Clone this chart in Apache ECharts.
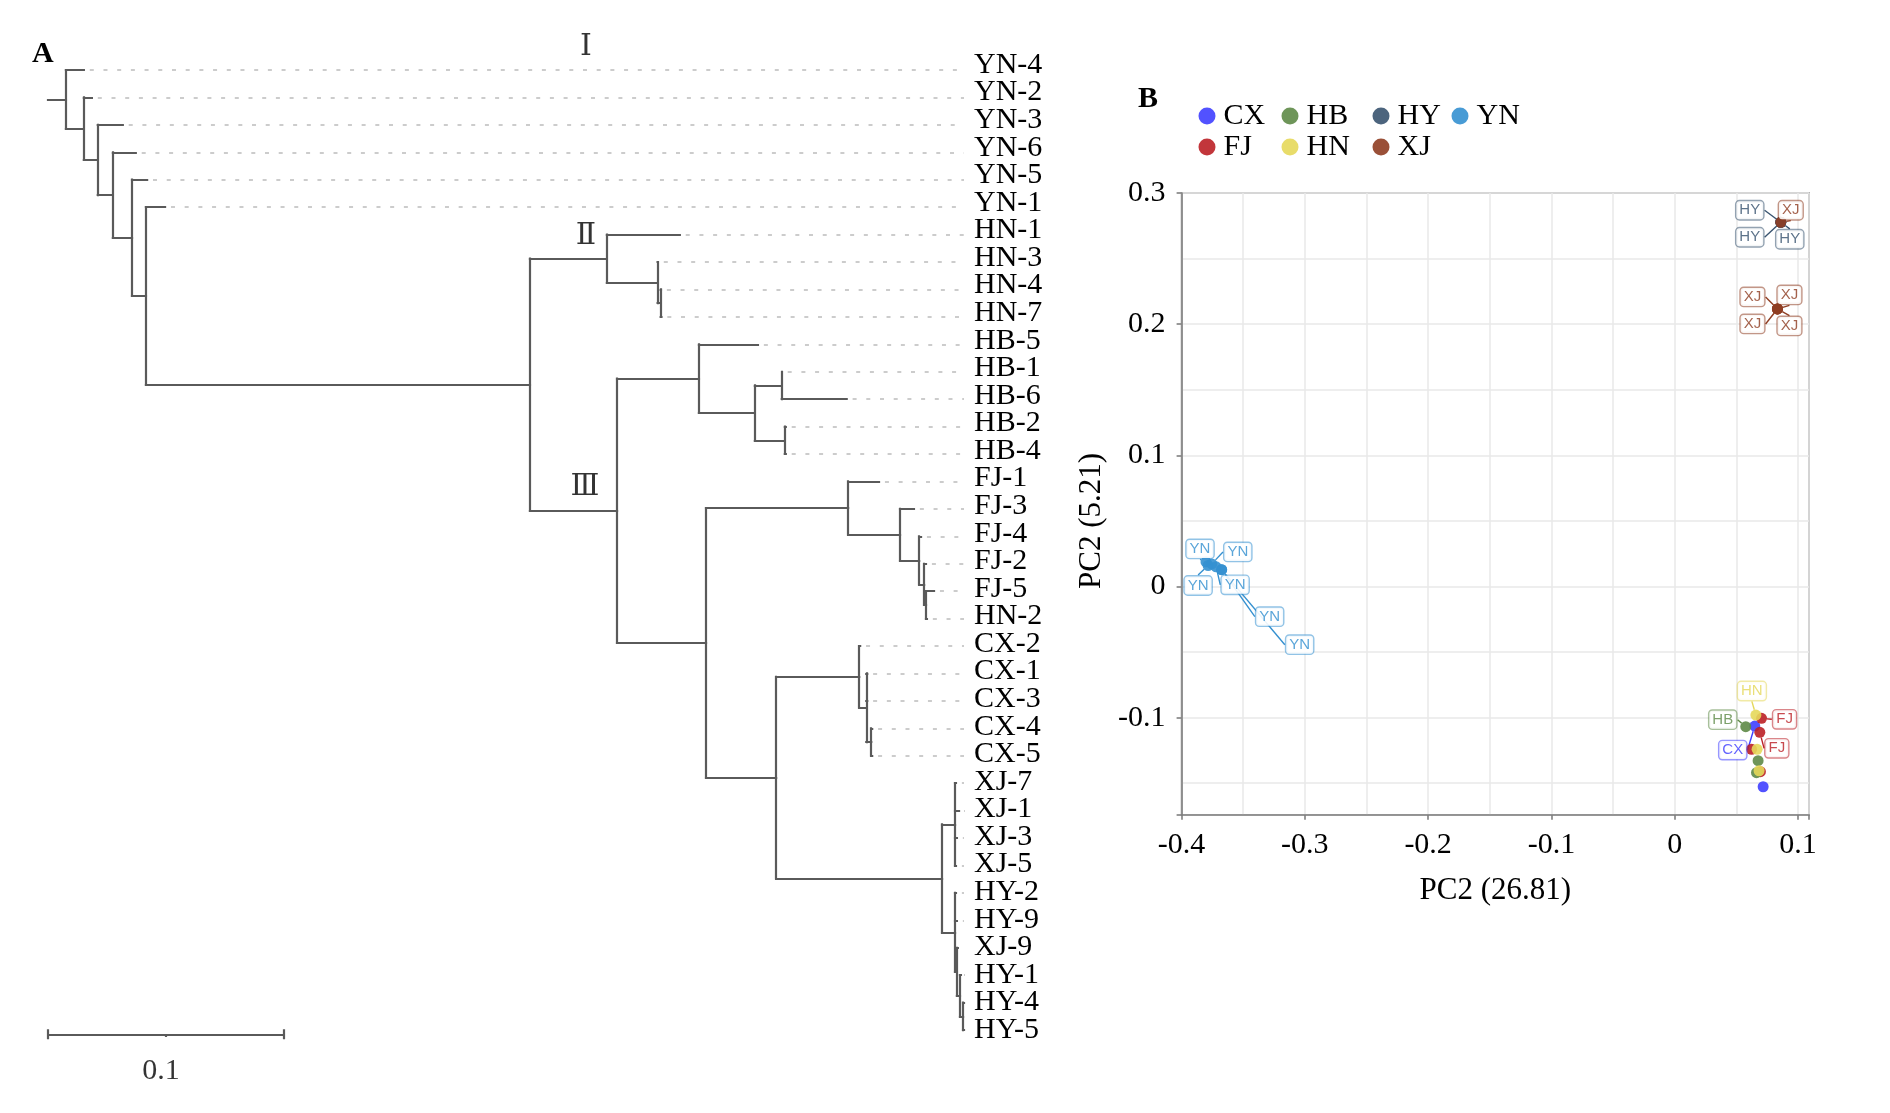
<!DOCTYPE html>
<html>
<head>
<meta charset="utf-8">
<script src="https://cdn.jsdelivr.net/npm/echarts@6/dist/echarts.min.js"></script>
<style>
html,body{margin:0;padding:0;background:#ffffff;}
#chart{width:1890px;height:1113px;}
</style>
</head>
<body>
<div id="chart"></div>
<script>
// ---------------- DATA ----------------
// Panel A: neighbour-joining tree (branch lengths)
const treeNewick =
 "(YN-4:0.0076,(YN-2:0.0034,(YN-3:0.0106,(YN-6:0.0097,(YN-5:0.0064,(YN-1:0.0081," +
 "((HN-1:0.0309,(HN-3:0.0001,(HN-4:0.0001,HN-7:0.0003):0.0013):0.0215):0.0326," +
 "((HB-5:0.0250,((HB-1:0.0000,HB-6:0.0275):0.0114,(HB-2:0.0004,HB-4:0.0004):0.0127):0.0237):0.0347," +
 "((FJ-1:0.0131,(FJ-3:0.0059,(FJ-4:0.0008,(FJ-2:0.0008,(FJ-5:0.0034,HN-2:0.0004):0.0008):0.0021):0.0081):0.0220):0.0602," +
 "((CX-2:0.0004,(CX-1:0.0004,CX-3:0.0004,(CX-4:0.0004,CX-5:0.0004):0.0021):0.0030):0.0352," +
 "((XJ-7:0.0004,XJ-1:0.0017,XJ-3:0.0008,XJ-5:0.0004):0.0055," +
 "(HY-2:0.0004,HY-9:0.0008,(XJ-9:0.0004,(HY-1:0.0004,(HY-4:0.0004,HY-5:0.0004):0.0013):0.0013):0.0008):0.0055):0.0703)" +
 ":0.0297):0.0377):0.0369):0.1627):0.0059):0.0081):0.0064):0.0059):0.0076):0.0076;";
const scaleBarLength = 0.1;
const cladeNames = ['Ⅰ', 'Ⅱ', 'Ⅲ'];

// Panel B: PCA scores per group
const groups = ['CX', 'FJ', 'HB', 'HN', 'HY', 'XJ', 'YN'];
const pcaCX = [[0.0650, -0.1064], [0.0718, -0.1527]];
const pcaFJ = [[0.0705, -0.1005], [0.0691, -0.1112], [0.0624, -0.1241], [0.0696, -0.1412]];
const pcaHB = [[0.0577, -0.1069], [0.0677, -0.1328], [0.0664, -0.1420]];
const pcaHN = [[0.0659, -0.0980], [0.0669, -0.1241], [0.0685, -0.1405]];
const pcaHY = [[0.0861, 0.2777], [0.0861, 0.2777], [0.0861, 0.2777]];
const pcaXJ = [[0.0861, 0.2777], [0.0834, 0.2116], [0.0834, 0.2116], [0.0834, 0.2116], [0.0834, 0.2116]];
const pcaYN = [[-0.3802, 0.0187], [-0.3785, 0.0160], [-0.3755, 0.0172], [-0.3720, 0.0150], [-0.3675, 0.0128], [-0.3675, 0.0128]];
const pcaXRange = [-0.4, 0.109];
const pcaYRange = [-0.174, 0.3];
const pcaXName = 'PC2 (26.81)';
const pcaYName = 'PC2 (5.21)';

// ---------------- STYLE / LAYOUT ----------------
const serif = "'Liberation Serif','Times New Roman','DejaVu Serif',serif";
const sans = "'Liberation Sans',Arial,sans-serif";
const groupColors = {CX:'#3f3fff', FJ:'#bb2026', HB:'#5e8a47', HN:'#e5d85a', HY:'#38536f', XJ:'#8f3d22', YN:'#3490d0'};
// repelled label displacement (px) per point, null = no label
const labelNudge = {
  CX: [[-22, 24], null],
  FJ: [[23, 1], [17, 16], null, null],
  HB: [[-23, -7], null, null],
  HN: [[-4, -24], null, null],
  HY: [[-31, -12], [-31, 15], [9, 17]],
  XJ: [[10, -12], [-25, -12], [12, -14], [-25, 15], [12, 17]],
  YN: [[-6, -13], [-10, 20], [26, -12], [19, 18], [48, 47], [78, 75]]
};
const pcaData = {CX: pcaCX, FJ: pcaFJ, HB: pcaHB, HN: pcaHN, HY: pcaHY, XJ: pcaXJ, YN: pcaYN};
const treeXMax = 0.3881;     // tree panel horizontal extent (distance units)
const rowGapX = 0.0025;      // gap between tip and dotted guide

// ---------------- TREE PARSING / LAYOUT ----------------
function parseNewick(s) {
  let i = 0;
  function node() {
    const n = {children: [], name: '', len: 0};
    if (s[i] === '(') {
      i++;
      n.children.push(node());
      while (s[i] === ',') { i++; n.children.push(node()); }
      i++; // ')'
    }
    let name = '';
    while (i < s.length && !':,();'.includes(s[i])) name += s[i++];
    n.name = name.trim();
    if (s[i] === ':') {
      i++;
      let num = '';
      while (i < s.length && !',();'.includes(s[i])) num += s[i++];
      n.len = parseFloat(num);
    }
    return n;
  }
  return node();
}
const root = parseNewick(treeNewick);
const leaves = [];
function layout(n, parent) {
  n.parent = parent;
  n.x = (parent ? parent.x : 0) + n.len;
  if (!n.children.length) {
    n.y = leaves.length;
    leaves.push(n);
  } else {
    n.children.forEach(c => layout(c, n));
    n.y = (n.children[0].y + n.children[n.children.length - 1].y) / 2;
  }
}
layout(root, null);
const leafNames = leaves.map(l => l.name);

const branchSegs = [];
(function walk(n) {
  const px = n.parent ? n.parent.x : 0;
  branchSegs.push({coords: [[px, n.y], [n.x, n.y]]});
  if (n.children.length) {
    branchSegs.push({coords: [[n.x, n.children[0].y], [n.x, n.children[n.children.length - 1].y]]});
    n.children.forEach(walk);
  }
})(root);
const guideSegs = leaves.map(l => ({coords: [[l.x + rowGapX, l.y], [treeXMax, l.y]]}));

function findLeaf(name) { return leaves.find(l => l.name === name); }
function mrca(a, b) {
  const anc = new Set();
  let n = findLeaf(a);
  while (n) { anc.add(n); n = n.parent; }
  n = findLeaf(b);
  while (n && !anc.has(n)) n = n.parent;
  return n;
}
const cladeIINode = mrca('HN-1', 'HN-7');
const cladeIIINode = mrca('HB-5', 'HY-5');
const cladeLabelData = [
  {value: [cladeIINode.x, 0], name: cladeNames[0], label: {offset: [-21, -23]}},
  {value: [cladeIINode.x, cladeIINode.y], name: cladeNames[1], label: {offset: [-21, -22]}},
  {value: [cladeIIINode.x, cladeIIINode.y], name: cladeNames[2], label: {offset: [-32, -24]}}
];

const barY = leaves.length - 1 + 0.155;
const capH = 0.18;
const scaleSegs = [
  {coords: [[0, barY], [scaleBarLength, barY]]},
  {coords: [[0, barY - capH], [0, barY + capH]]},
  {coords: [[scaleBarLength, barY - capH], [scaleBarLength, barY + capH]]},
  {coords: [[scaleBarLength / 2, barY], [scaleBarLength / 2, barY + 0.1]]}
];

// ---------------- CHART ----------------
function fmtTick(v) {
  const r = Math.round(v * 10);
  if (Math.abs(v * 10 - r) > 1e-6) return '';
  return r === 0 ? '0' : (r / 10).toString();
}
function hexA(hex, a) {
  const n = parseInt(hex.slice(1), 16);
  return 'rgba(' + ((n >> 16) & 255) + ',' + ((n >> 8) & 255) + ',' + (n & 255) + ',' + a + ')';
}

const pcaSeries = groups.map(g => {
  const col = groupColors[g];
  const nudge = labelNudge[g];
  return {
    type: 'scatter', name: g, xAxisIndex: 1, yAxisIndex: 1,
    data: pcaData[g].map((p, i) => ({value: p, label: {show: !!nudge[i]}})),
    symbolSize: 11,
    itemStyle: {color: col, opacity: 0.9},
    label: {
      show: true, formatter: g, position: 'inside',
      color: hexA(col, 0.9), fontFamily: sans, fontSize: 15,
      backgroundColor: '#ffffff', borderColor: hexA(col, 0.6), borderWidth: 1.4, borderRadius: 3,
      padding: [2, 3, 1, 3]
    },
    labelLayout: function (params) {
      const n = nudge[params.dataIndex];
      return n ? {dx: n[0], dy: n[1]} : {};
    },
    labelLine: {show: true, lineStyle: {color: col, width: 1.4}},
    emphasis: {disabled: true},
    silent: true
  };
});

const legendBase = {
  orient: 'vertical', top: 101, padding: 0, itemGap: 1, itemWidth: 17, itemHeight: 17,
  icon: 'circle', selectedMode: false,
  textStyle: {fontFamily: serif, fontSize: 30, color: '#000', lineHeight: 30, padding: [0, 0, 0, 3]}
};
const axisFont = {fontFamily: serif, fontSize: 30, color: '#000'};

const chart = echarts.init(document.getElementById('chart'), null, {renderer: 'canvas'});
chart.setOption({
  animation: false,
  backgroundColor: '#ffffff',
  title: [
    {text: 'A', left: 32, top: 39, padding: 0, textStyle: {fontFamily: serif, fontWeight: 'bold', fontSize: 30, color: '#000'}},
    {text: 'B', left: 1138, top: 84, padding: 0, textStyle: {fontFamily: serif, fontWeight: 'bold', fontSize: 30, color: '#000'}}
  ],
  legend: [
    Object.assign({}, legendBase, {data: ['CX', 'FJ'], left: 1198.5}),
    Object.assign({}, legendBase, {data: ['HB', 'HN'], left: 1281.5}),
    Object.assign({}, legendBase, {data: ['HY', 'XJ'], left: 1372.5}),
    Object.assign({}, legendBase, {data: ['YN'], left: 1451.5})
  ],
  grid: [
    {left: 48, top: 70, width: 916, height: 36 * 27.43},
    {left: 1181.6, top: 193, width: 627.4, height: 621.7, show: true, borderColor: '#7f7f7f', borderWidth: 1.6, backgroundColor: 'transparent'},
    {left: 48, top: 65, width: 916, height: 35 * 27.57}
  ],
  xAxis: [
    {gridIndex: 0, type: 'value', min: 0, max: treeXMax, show: false},
    {gridIndex: 1, type: 'value', position: 'bottom', min: pcaXRange[0], max: pcaXRange[1], splitNumber: 10,
      axisLine: {show: true, onZero: false, lineStyle: {color: '#7f7f7f', width: 1.6}},
      axisTick: {show: false},
      axisLabel: Object.assign({formatter: fmtTick, showMaxLabel: false, showMinLabel: true, margin: 15}, axisFont),
      splitLine: {show: true, lineStyle: {color: '#e8e8e8', width: 1.5}},
      name: pcaXName, nameLocation: 'middle', nameGap: 61,
      nameTextStyle: {fontFamily: serif, fontSize: 31, color: '#000'}},
    {gridIndex: 1, type: 'value', position: 'bottom', min: pcaXRange[0], max: pcaXRange[1], splitNumber: 5,
      axisLine: {show: false, onZero: false}, axisLabel: {show: false}, splitLine: {show: false},
      axisTick: {show: true, length: 5, lineStyle: {color: '#7f7f7f', width: 1.6}}},
    {gridIndex: 2, type: 'value', min: 0, max: 1, show: false}
  ],
  yAxis: [
    {gridIndex: 0, type: 'value', min: 0, max: 36, inverse: true, show: false},
    {gridIndex: 1, type: 'value', position: 'left', min: pcaYRange[0], max: pcaYRange[1], splitNumber: 10,
      axisLine: {show: true, onZero: false, lineStyle: {color: '#7f7f7f', width: 1.6}},
      axisTick: {show: false},
      axisLabel: Object.assign({formatter: fmtTick, showMinLabel: false, showMaxLabel: true, margin: 16}, axisFont),
      splitLine: {show: true, lineStyle: {color: '#e8e8e8', width: 1.5}},
      name: pcaYName, nameLocation: 'middle', nameGap: 74, nameRotate: 90,
      nameTextStyle: {fontFamily: serif, fontSize: 31, color: '#000', padding: [0, 34, 0, 0]}},
    {gridIndex: 1, type: 'value', position: 'left', min: pcaYRange[0], max: pcaYRange[1], splitNumber: 5,
      axisLine: {show: false, onZero: false}, axisLabel: {show: false}, splitLine: {show: false},
      axisTick: {show: true, length: 5, lineStyle: {color: '#7f7f7f', width: 1.6}}},
    {gridIndex: 2, type: 'category', data: leafNames, inverse: true, boundaryGap: false, position: 'right',
      axisLine: {show: false}, axisTick: {show: false}, splitLine: {show: false},
      axisLabel: {margin: 10, interval: 0, fontFamily: serif, fontSize: 30, color: '#000'}}
  ],
  series: [
    {type: 'lines', coordinateSystem: 'cartesian2d', xAxisIndex: 0, yAxisIndex: 0, silent: true,
      data: guideSegs, lineStyle: {color: '#cccccc', width: 2, type: [4, 9.7], opacity: 1}},
    {type: 'lines', coordinateSystem: 'cartesian2d', xAxisIndex: 0, yAxisIndex: 0, silent: true,
      data: branchSegs, lineStyle: {color: '#5a5a5a', width: 2.2, cap: 'square', opacity: 1}},
    {type: 'lines', coordinateSystem: 'cartesian2d', xAxisIndex: 0, yAxisIndex: 0, silent: true,
      data: scaleSegs, lineStyle: {color: '#5a5a5a', width: 2.2, opacity: 1}},
    {type: 'scatter', xAxisIndex: 0, yAxisIndex: 0, silent: true, symbolSize: 0,
      data: [[scaleBarLength / 2, barY]],
      label: {show: true, position: 'bottom', distance: 22, offset: [-5, 0], formatter: String(scaleBarLength),
        fontFamily: serif, fontSize: 30, color: '#000'}},
    {type: 'scatter', xAxisIndex: 0, yAxisIndex: 0, silent: true, symbolSize: 0,
      data: cladeLabelData,
      label: {show: true, position: 'inside', formatter: p => p.name,
        fontFamily: serif, fontSize: 30, color: '#000'}}
  ].concat(pcaSeries)
});
</script>
</body>
</html>
